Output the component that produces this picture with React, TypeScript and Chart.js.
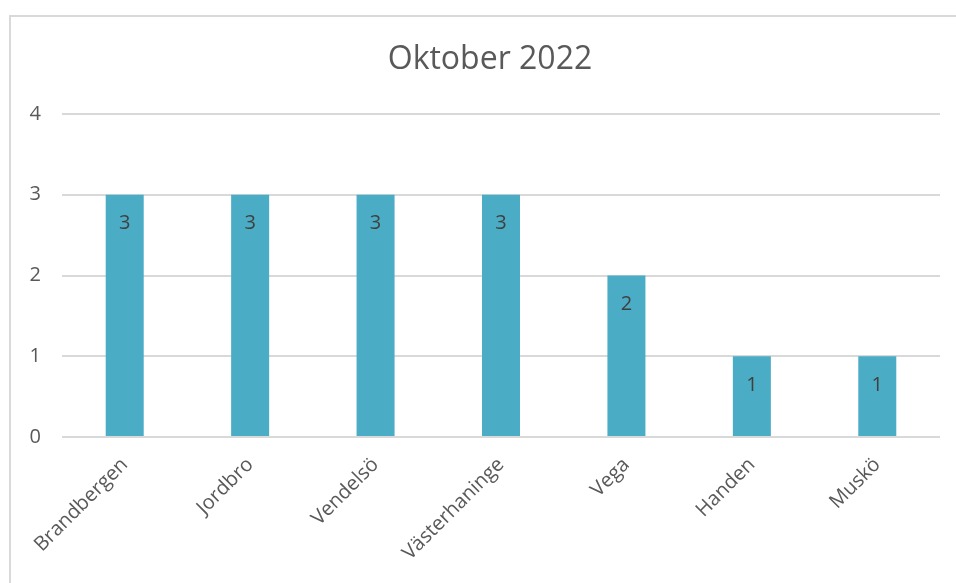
import React, { useEffect, useRef } from "react";
import { Chart, registerables } from "chart.js";

Chart.register(...registerables);

const categories = ["Brandbergen", "Jordbro", "Vendelsö", "Västerhaninge", "Vega", "Handen", "Muskö"];
const values = [3, 3, 3, 3, 2, 1, 1];
const titleText = "Oktober 2022";

const valueLabels = {
  id: "valueLabels",
  afterDatasetsDraw(chart: any) {
    const ctx = chart.ctx;
    const meta = chart.getDatasetMeta(0);
    ctx.save();
    ctx.font = "20px 'Open Sans'";
    ctx.fillStyle = "#404040";
    ctx.textAlign = "center";
    ctx.textBaseline = "middle";
    meta.data.forEach((bar: any, i: number) => {
      ctx.fillText(String(values[i]), bar.x, bar.y + 29);
    });
    ctx.restore();
  },
};

const chartTitle = {
  id: "chartTitle",
  afterDraw(chart: any) {
    const ctx = chart.ctx;
    ctx.save();
    ctx.font = "32px 'Open Sans'";
    ctx.fillStyle = "#595959";
    ctx.textAlign = "center";
    ctx.textBaseline = "middle";
    ctx.fillText(titleText, 490, 60);
    ctx.restore();
  },
};

export default function App() {
  const ref = useRef<HTMLCanvasElement>(null);
  useEffect(() => {
    const chart = new Chart(ref.current!, {
      type: "bar",
      data: {
        labels: categories,
        datasets: [
          {
            data: values,
            backgroundColor: "#4BACC6",
            barPercentage: 0.6,
            categoryPercentage: 0.505,
          },
        ],
      },
      plugins: [valueLabels, chartTitle],
      options: {
        animation: false,
        responsive: false,
        layout: { padding: { left: 0, right: 16, top: 114, bottom: 0 } },
        plugins: {
          legend: { display: false },
          tooltip: { enabled: false },
          title: { display: false },
        },
        scales: {
          x: {
            grid: { display: false },
            border: { display: false },
            ticks: {
              color: "#595959",
              font: { family: "'Open Sans'", size: 20 },
              maxRotation: 45,
              minRotation: 45,
              padding: 8,
            },
            afterFit: (s: any) => {
              s.height = 146;
            },
          },
          y: {
            min: 0,
            max: 4,
            ticks: {
              stepSize: 1,
              color: "#595959",
              font: { family: "'Open Sans'", size: 20 },
              padding: 21,
            },
            grid: { color: "#d9d9d9", lineWidth: 2, drawTicks: false },
            border: { display: false },
            afterFit: (s: any) => {
              s.width = 62;
            },
          },
        },
      },
    });
    return () => chart.destroy();
  }, []);
  return (
    <div style={{ position: "fixed", left: 0, top: 0, width: 956, height: 583, overflow: "hidden", background: "#fff" }}>
      <div
        style={{
          position: "absolute",
          left: 9,
          top: 15,
          width: 1000,
          height: 700,
          border: "2px solid #d9d9d9",
          boxSizing: "border-box",
        }}
      />
      <canvas ref={ref} width={956} height={583} style={{ position: "absolute", left: 0, top: 0 }} />
    </div>
  );
}
